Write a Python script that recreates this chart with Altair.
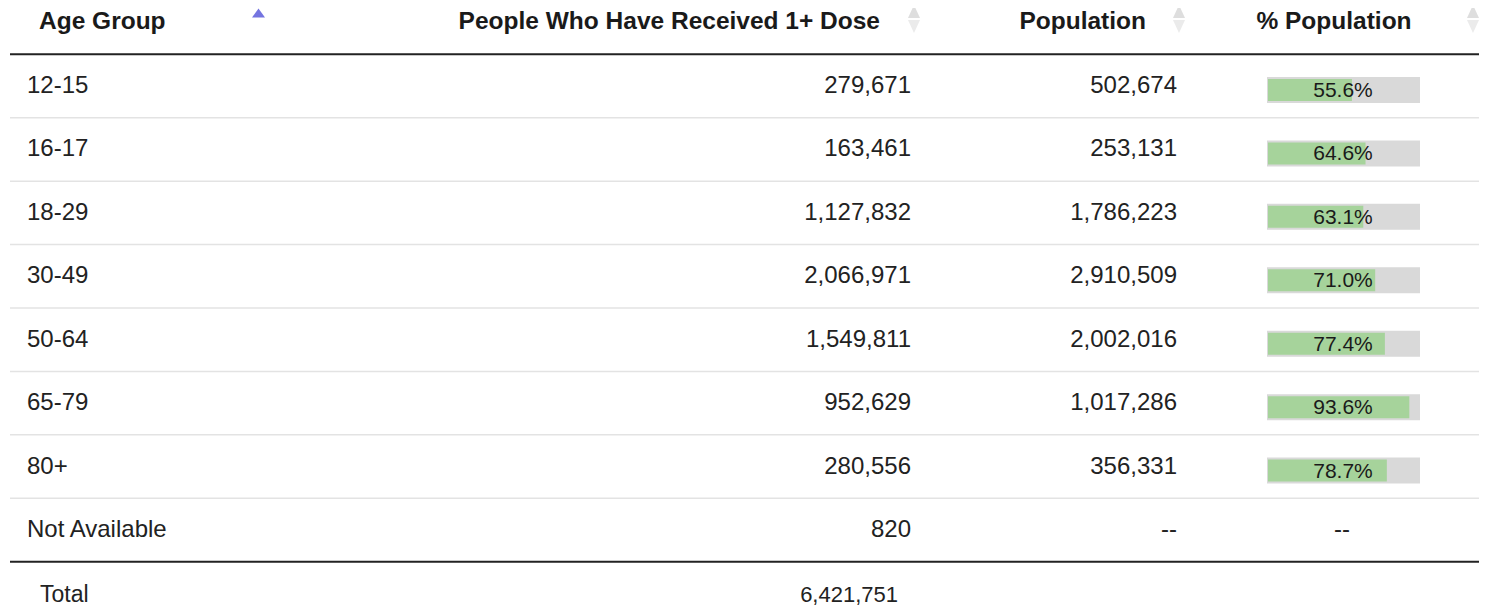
import altair as alt
import pandas as pd

ages = ["12-15", "16-17", "18-29", "30-49", "50-64", "65-79", "80+", "Not Available"]
doses = [279671, 163461, 1127832, 2066971, 1549811, 952629, 280556, 820]
population = [502674, 253131, 1786223, 2910509, 2002016, 1017286, 356331, None]
pct = [55.6, 64.6, 63.1, 71.0, 77.4, 93.6, 78.7, None]
headers = ["Age Group", "People Who Have Received 1+ Dose", "Population", "% Population"]
total_label = "Total"
total_value = 6421751

rows = pd.DataFrame({
    "row": list(range(len(ages))),
    "age": ages,
    "doses": [f"{d:,}" for d in doses],
    "pop": [f"{p:,}" if p is not None else "--" for p in population],
})
bars = pd.DataFrame({
    "row": [i for i, p in enumerate(pct) if p is not None],
    "pct": [p for p in pct if p is not None],
    "pct_label": [f"{p:.1f}%" for p in pct if p is not None],
})
bars["zero"] = 0
bars["full"] = 100
missing = pd.DataFrame({"row": [i for i, p in enumerate(pct) if p is None], "label": "--"})
head = pd.DataFrame({"row": [-1] * 4, "text": headers, "col": list(range(4))})
tot = pd.DataFrame({"row": [len(ages)], "label": [total_label], "value": [f"{total_value:,}"]})
seps = pd.DataFrame({"row": [i + 0.5 for i in range(len(ages) - 1)]})
borders = pd.DataFrame({"row": [-0.5, len(ages) - 0.5]})

FONT = "Liberation Sans"
W, H = 1471, 599
ys = alt.Scale(domain=[0, 7], range=[78, 522], padding=0, nice=False, zero=False)
xs = alt.Scale(domain=[0, 100], range=[1260, 1411], padding=0, nice=False)
Y = alt.Y("row:Q", scale=ys, axis=None)


def txt(df, field, x, align, size=24, bold=False, color="#222222", **kw):
    return alt.Chart(df).mark_text(
        align=align, baseline="middle", font=FONT, fontSize=size,
        fontWeight="bold" if bold else "normal", color=color, **kw
    ).encode(x=alt.value(x), y=Y, text=f"{field}:N")


def hdr(i, x, align):
    return txt(head[head.col == i], "text", x, align, size=24.5, bold=True, color="#1a1a1a", dy=-0.5)


UP = "M-0.43,-0.07L0,-1L0.43,-0.07Z"
DOWN = "M-0.43,0.07L0,1L0.43,0.07Z"
ACTIVE = "M-1,0.7L0,-0.7L1,0.7Z"


def icon(x, active=False):
    base = alt.Chart(head.iloc[[0]])
    if active:
        return base.mark_point(
            shape=ACTIVE, filled=True, size=169, opacity=1, color="#7474e0", yOffset=-9.6
        ).encode(x=alt.value(x), y=Y)
    up = base.mark_point(
        shape=UP, filled=True, size=784, opacity=1, color="#dedede", yOffset=-3.6
    ).encode(x=alt.value(x), y=Y)
    dn = base.mark_point(
        shape=DOWN, filled=True, size=784, opacity=1, color="#ebebeb", yOffset=-3.6
    ).encode(x=alt.value(x), y=Y)
    return up + dn


sep = alt.Chart(seps).mark_rule(color="#e3e3e3", strokeWidth=1.5).encode(
    y=Y, x=alt.value(2), x2=alt.value(W))
bord = alt.Chart(borders).mark_rule(color="#222222", strokeWidth=2).encode(
    y=Y, x=alt.value(2), x2=alt.value(W))

grey = alt.Chart(bars).mark_bar(
    height=24, yOffset=4, color="#d9d9d9", stroke="#d9d9d9", strokeWidth=2, orient="horizontal"
).encode(x=alt.X("zero:Q", scale=xs, axis=None), x2="full:Q", y=Y)
green = alt.Chart(bars).mark_bar(
    height=22, yOffset=4, color="#a6d39b", orient="horizontal"
).encode(x=alt.X("zero:Q", scale=xs, axis=None), x2="pct:Q", y=Y)

pct_text = alt.Chart(bars).mark_text(
    align="center", baseline="middle", font=FONT, fontSize=21, color="#1a1a1a", dy=5
).encode(x=alt.value(1335), y=Y, text="pct_label:N")
pct_missing = txt(missing, "label", 1334, "center")

chart = alt.layer(
    sep, bord,
    hdr(0, 31, "left"), hdr(1, 872, "right"), hdr(2, 1138, "right"), hdr(3, 1326, "center"),
    icon(250.5, active=True), icon(906), icon(1171), icon(1465),
    txt(rows, "age", 19, "left"),
    txt(rows, "doses", 903, "right"),
    txt(rows, "pop", 1169, "right"),
    grey, green, pct_text, pct_missing,
    txt(tot, "label", 32, "left", size=23, dy=2),
    txt(tot, "value", 890, "right", size=22, dy=2),
).properties(
    width=W, height=H, padding=0, background="white",
    autosize=alt.AutoSizeParams(type="none"),
).configure_view(stroke="transparent", strokeWidth=0)

chart.save("out.html", embed_options={"renderer": "svg", "actions": False})
